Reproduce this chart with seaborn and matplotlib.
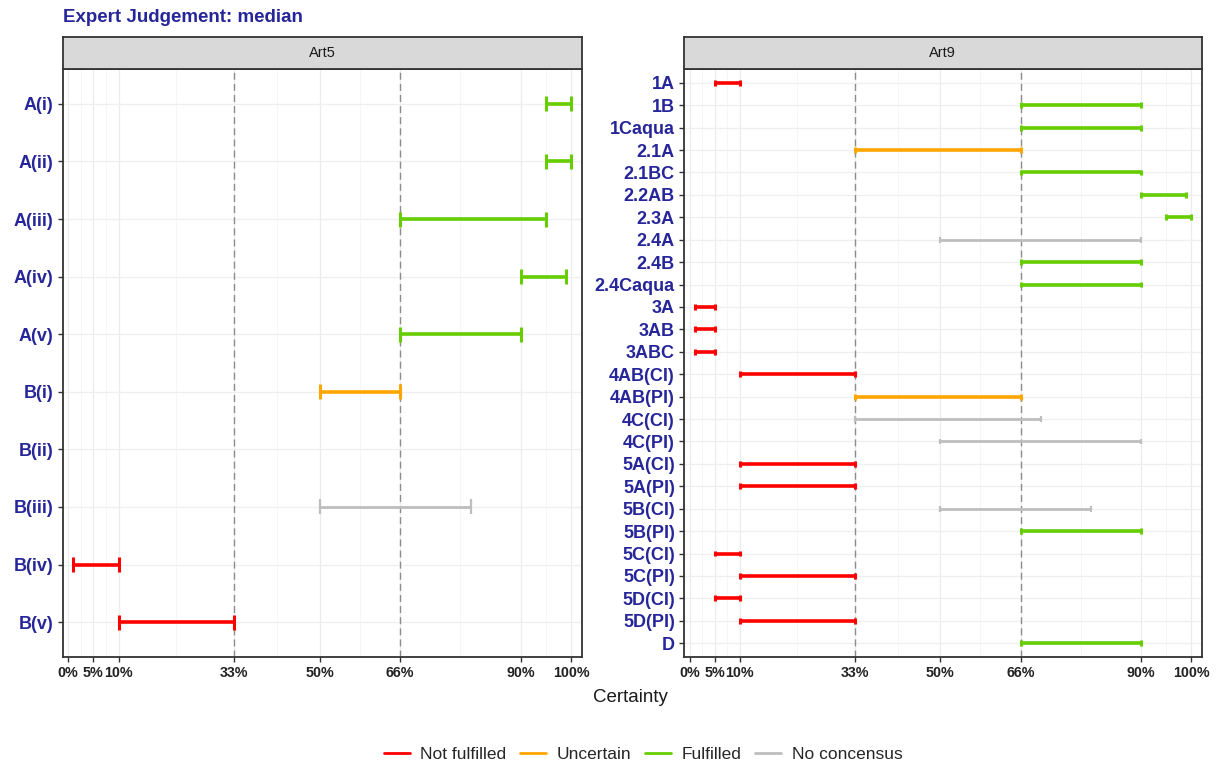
import numpy as np
import pandas as pd
import matplotlib
matplotlib.use("Agg")
import matplotlib.pyplot as plt
from matplotlib.lines import Line2D
import seaborn as sns

# ---------------- data ----------------
cats_art5 = ["A(i)", "A(ii)", "A(iii)", "A(iv)", "A(v)",
             "B(i)", "B(ii)", "B(iii)", "B(iv)", "B(v)"]
low_art5 = [95, 95, 66, 90, 66, 50, np.nan, 50, 1, 10]
high_art5 = [100, 100, 95, 99, 90, 66, np.nan, 80, 10, 33]
status_art5 = ["Fulfilled", "Fulfilled", "Fulfilled", "Fulfilled", "Fulfilled",
               "Uncertain", None, "No concensus", "Not fulfilled", "Not fulfilled"]

cats_art9 = ["1A", "1B", "1Caqua", "2.1A", "2.1BC", "2.2AB", "2.3A", "2.4A", "2.4B",
             "2.4Caqua", "3A", "3AB", "3ABC", "4AB(CI)", "4AB(PI)", "4C(CI)", "4C(PI)",
             "5A(CI)", "5A(PI)", "5B(CI)", "5B(PI)", "5C(CI)", "5C(PI)", "5D(CI)",
             "5D(PI)", "D"]
low_art9 = [5, 66, 66, 33, 66, 90, 95, 50, 66, 66, 1, 1, 1, 10, 33, 33, 50,
            10, 10, 50, 66, 5, 10, 5, 10, 66]
high_art9 = [10, 90, 90, 66, 90, 99, 100, 90, 90, 90, 5, 5, 5, 33, 66, 70, 90,
             33, 33, 80, 90, 10, 33, 10, 33, 90]
status_art9 = ["Not fulfilled", "Fulfilled", "Fulfilled", "Uncertain", "Fulfilled",
               "Fulfilled", "Fulfilled", "No concensus", "Fulfilled", "Fulfilled",
               "Not fulfilled", "Not fulfilled", "Not fulfilled", "Not fulfilled",
               "Uncertain", "No concensus", "No concensus", "Not fulfilled",
               "Not fulfilled", "No concensus", "Fulfilled", "Not fulfilled",
               "Not fulfilled", "Not fulfilled", "Not fulfilled", "Fulfilled"]

x_ticks = [0, 5, 10, 33, 50, 66, 90, 100]
x_ticklabels = ["0%", "5%", "10%", "33%", "50%", "66%", "90%", "100%"]
ref_lines = [33, 66]
status_order = ["Not fulfilled", "Uncertain", "Fulfilled", "No concensus"]
status_colors = ["#ff0000", "#ffa500", "#66cd00", "#bebebe"]

panels = [("Art5", cats_art5, low_art5, high_art5, status_art5),
          ("Art9", cats_art9, low_art9, high_art9, status_art9)]

# ---------------- style ----------------
sns.set_theme(style="white")
plt.rcParams["font.family"] = ["Liberation Sans", "DejaVu Sans"]
palette = dict(zip(status_order, status_colors))
line_w = {"Not fulfilled": 2.6, "Uncertain": 2.6, "Fulfilled": 2.6, "No concensus": 2.0}

W, H = 1217, 767
fig = plt.figure(figsize=(W / 100, H / 100), dpi=100)

label_blue = "#26269a"
panel_top, panel_bot = 69.3, 656.7
strip_top = 36.7
panel_x = [(62.7, 581.7), (684.0, 1201.7)]

major = x_ticks
minor = [(a + b) / 2 for a, b in zip(x_ticks[:-1], x_ticks[1:])]

for (name, cats, lo, hi, st), (x0, x1) in zip(panels, panel_x):
    df = pd.DataFrame({"cat": cats, "low": lo, "high": hi, "status": st})
    df["pos"] = np.arange(len(df))
    ax = fig.add_axes([x0 / W, 1 - panel_bot / H, (x1 - x0) / W, (panel_bot - panel_top) / H])
    n = len(cats)
    ax.set_xlim(-1.1, 102.1)
    ax.set_ylim(n - 1 + 0.6, -0.6)

    # grid
    for m in minor:
        ax.axvline(m, color="#f5f5f5", lw=0.6, zorder=0)
    for m in major:
        ax.axvline(m, color="#ececec", lw=0.9, zorder=0)
    for p in df["pos"]:
        ax.axhline(p, color="#efefef", lw=0.9, zorder=0)
    for r in ref_lines:
        ax.axvline(r, color="#8c8c8c", lw=1.0, ls=(0, (5, 3)), zorder=1)

    # intervals
    d = df.dropna(subset=["low"])
    cap = 0.13
    for s in status_order:
        sub = d[d["status"] == s]
        if sub.empty:
            continue
        c = palette[s]
        lw = line_w[s]
        ax.hlines(sub["pos"], sub["low"], sub["high"], color=c, lw=lw, zorder=3)
        ax.vlines(sub["low"], sub["pos"] - cap, sub["pos"] + cap, color=c, lw=lw - 0.4, zorder=3)
        ax.vlines(sub["high"], sub["pos"] - cap, sub["pos"] + cap, color=c, lw=lw - 0.4, zorder=3)

    ax.set_yticks(df["pos"])
    ax.set_yticklabels(cats, fontsize=13, fontweight="bold", color=label_blue)
    ax.set_xticks(x_ticks)
    ax.set_xticklabels(x_ticklabels, fontsize=10.3, fontweight="bold", color="#222222")
    ax.tick_params(axis="both", which="major", length=3.5, width=1, color="#333333",
                   left=True, bottom=True, pad=3)
    ax.grid(False)
    for sp in ax.spines.values():
        sp.set_color("#333333")
        sp.set_linewidth(1.3)
        sp.set_visible(True)
    ax.set_xlabel("")
    ax.set_ylabel("")

    # strip
    sax = fig.add_axes([x0 / W, 1 - panel_top / H, (x1 - x0) / W, (panel_top - strip_top) / H])
    sax.set_facecolor("#d9d9d9")
    sax.set_xticks([])
    sax.set_yticks([])
    for sp in sax.spines.values():
        sp.set_color("#333333")
        sp.set_linewidth(1.3)
        sp.set_visible(True)
    sax.text(0.5, 0.5, name, ha="center", va="center", fontsize=10.5, color="#1a1a1a",
             transform=sax.transAxes)

fig.text(63 / W, 1 - 17 / H, "Expert Judgement: median", fontsize=13.5,
         fontweight="bold", color=label_blue, ha="left", va="center")
fig.text(630 / W, 1 - 697 / H, "Certainty", fontsize=13.5, color="#1a1a1a",
         ha="center", va="center")

handles = [Line2D([0], [0], color=palette[s], lw=2) for s in status_order]
fig.legend(handles, status_order, loc="center", bbox_to_anchor=(643 / W, 1 - 754 / H),
           ncol=4, frameon=False, fontsize=12.5, handlelength=1.5, columnspacing=0.8,
           handletextpad=0.6)

fig.savefig("out.png", dpi=100)
